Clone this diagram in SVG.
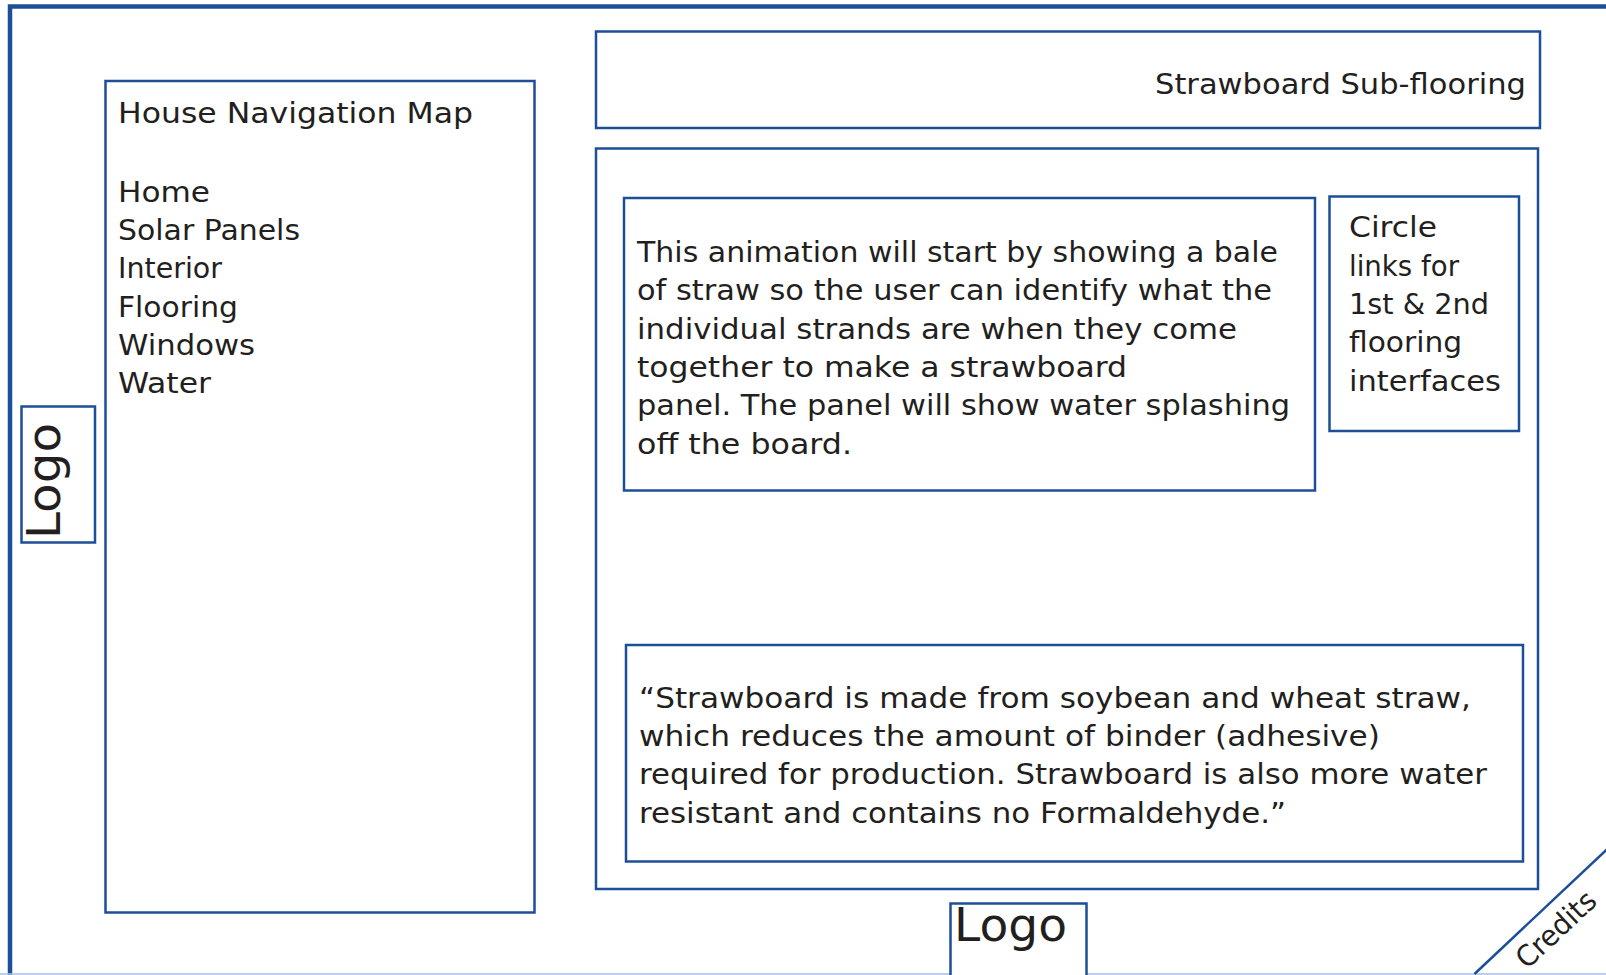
<svg xmlns="http://www.w3.org/2000/svg" width="1606" height="975" viewBox="0 0 1606 975">
<style>
.box{fill:#fff;stroke:#1c4f97;stroke-width:2.5}
.t{font-family:"DejaVu Sans","Liberation Sans",sans-serif;font-size:29px;fill:#231f20}
.lg{font-family:"DejaVu Sans","Liberation Sans",sans-serif;font-size:46px;fill:#231f20}
</style>
<rect x="0" y="0" width="1606" height="975" fill="#fff"/>
<g id="frame">
<rect x="10" y="6.5" width="1620" height="990" fill="none" stroke="#1c4f97" stroke-width="4.5"/>
<line x1="0" y1="974" x2="1606" y2="974" stroke="#a9c0e0" stroke-width="1.5"/>
</g>
<g id="nav">
<rect class="box" x="105.5" y="81" width="429" height="831.5"/>
<text class="t" x="118" y="123" textLength="355" lengthAdjust="spacingAndGlyphs">House Navigation Map</text>
<text class="t" x="118" y="201.5" textLength="92" lengthAdjust="spacingAndGlyphs">Home</text>
<text class="t" x="118" y="239.5" textLength="182" lengthAdjust="spacingAndGlyphs">Solar Panels</text>
<text class="t" x="118" y="278" textLength="104" lengthAdjust="spacingAndGlyphs">Interior</text>
<text class="t" x="118" y="316.5" textLength="120" lengthAdjust="spacingAndGlyphs">Flooring</text>
<text class="t" x="118" y="355" textLength="137" lengthAdjust="spacingAndGlyphs">Windows</text>
<text class="t" x="118" y="393" textLength="93" lengthAdjust="spacingAndGlyphs">Water</text>
</g>
<g id="logo-left">
<rect class="box" x="21.5" y="406.5" width="73.5" height="136"/>
<text class="lg" transform="translate(60 539) rotate(-90)" textLength="116" lengthAdjust="spacingAndGlyphs">Logo</text>
</g>
<g id="title">
<rect class="box" x="596" y="31.5" width="944" height="96.5"/>
<text class="t" x="1526" y="94" text-anchor="end" textLength="371" lengthAdjust="spacingAndGlyphs">Strawboard Sub-flooring</text>
</g>
<g id="main">
<rect class="box" x="596" y="148.5" width="942" height="740.5"/>
</g>
<g id="animation">
<rect class="box" x="624" y="198" width="691" height="292.5"/>
<text class="t" x="637" y="262" textLength="641" lengthAdjust="spacingAndGlyphs">This animation will start by showing a bale</text>
<text class="t" x="637" y="300" textLength="635" lengthAdjust="spacingAndGlyphs">of straw so the user can identify what the</text>
<text class="t" x="637" y="338.5" textLength="600" lengthAdjust="spacingAndGlyphs">individual strands are when they come</text>
<text class="t" x="637" y="377" textLength="490" lengthAdjust="spacingAndGlyphs">together to make a strawboard</text>
<text class="t" x="637" y="415" textLength="653" lengthAdjust="spacingAndGlyphs">panel. The panel will show water splashing</text>
<text class="t" x="637" y="453.5" textLength="215" lengthAdjust="spacingAndGlyphs">off the board.</text>
</g>
<g id="circle-links">
<rect class="box" x="1329.5" y="196.5" width="189.5" height="234.5"/>
<text class="t" x="1349" y="237" textLength="88" lengthAdjust="spacingAndGlyphs">Circle</text>
<text class="t" x="1349" y="275.5" textLength="110" lengthAdjust="spacingAndGlyphs">links for</text>
<text class="t" x="1349" y="313.5" textLength="140" lengthAdjust="spacingAndGlyphs">1st &amp; 2nd</text>
<text class="t" x="1349" y="351.5" textLength="113" lengthAdjust="spacingAndGlyphs">flooring</text>
<text class="t" x="1349" y="391" textLength="152" lengthAdjust="spacingAndGlyphs">interfaces</text>
</g>
<g id="quote">
<rect class="box" x="626" y="645" width="897" height="216.5"/>
<text class="t" x="639" y="707.5" textLength="832" lengthAdjust="spacingAndGlyphs">“Strawboard is made from soybean and wheat straw,</text>
<text class="t" x="639" y="745.5" textLength="741" lengthAdjust="spacingAndGlyphs">which reduces the amount of binder (adhesive)</text>
<text class="t" x="639" y="784" textLength="848" lengthAdjust="spacingAndGlyphs">required for production. Strawboard is also more water</text>
<text class="t" x="639" y="822.5" textLength="647" lengthAdjust="spacingAndGlyphs">resistant and contains no Formaldehyde.”</text>
</g>
<g id="logo-bottom">
<rect class="box" x="950.5" y="903.5" width="136" height="80"/>
<text class="lg" x="954" y="941" textLength="113" lengthAdjust="spacingAndGlyphs">Logo</text>
</g>
<g id="credits">
<line x1="1474.5" y1="974" x2="1620" y2="837" stroke="#1c4f97" stroke-width="2.5"/>
<text class="t" font-size="28" transform="translate(1527 970) rotate(-43)" textLength="98" lengthAdjust="spacingAndGlyphs">Credits</text>
</g>
</svg>
